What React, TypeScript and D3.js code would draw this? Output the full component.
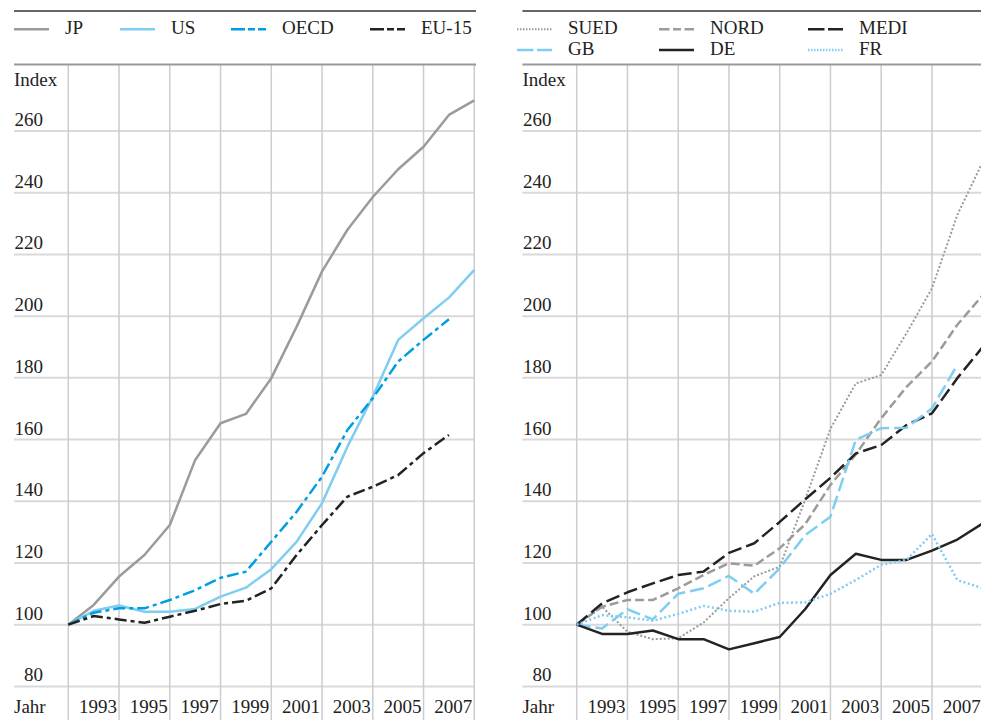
import React from "react";
import * as d3 from "d3";

const years = [1991, 1992, 1993, 1994, 1995, 1996, 1997, 1998, 1999, 2000, 2001, 2002, 2003, 2004, 2005, 2006, 2007];
const yearTicks = [1993, 1995, 1997, 1999, 2001, 2003, 2005, 2007];
const gridYears = [1991, 1993, 1995, 1997, 1999, 2001, 2003, 2005, 2007];
const yTicks = [80, 100, 120, 140, 160, 180, 200, 220, 240, 260];

// Left panel
const JP = [100, 106.4, 115.6, 122.6, 132.3, 153.4, 165.3, 168.3, 179.9, 196.6, 214.5, 228, 238.6, 247.6, 254.9, 265.2, 269.9];
const US = [100, 104.5, 106.2, 104.2, 104.2, 105.1, 109.1, 112, 118, 126.9, 139.4, 157.7, 173.9, 192.3, 199.3, 206, 215];
const OECD = [100, 103.9, 105.3, 105.3, 108, 111.2, 115.2, 117.2, 126.9, 136.6, 148, 163.1, 173.4, 185.3, 192.3, 199];
const EU15 = [100, 102.8, 101.7, 100.6, 102.6, 104.5, 106.7, 107.8, 111.8, 122.6, 132.3, 141.5, 144.7, 148.5, 155.6, 161.5];

// Right panel
const SUED = [100, 105.8, 97.7, 95.3, 95.6, 100.7, 108.6, 115.7, 118.8, 140.4, 163.5, 178.2, 180.9, 194.5, 209, 232.8, 250];
const NORD = [100, 105.8, 108, 108, 111.8, 116.1, 119.9, 119.1, 124.8, 132.5, 145.3, 155.2, 166.9, 177.1, 185.3, 197.2, 206.8];
const MEDI = [100, 106.9, 110.5, 113.4, 116.1, 117.2, 123.3, 126.4, 133.3, 140.6, 147.6, 155.5, 158.2, 164.7, 168.5, 179.9, 190];
const GB = [100, 98.8, 105, 101.7, 110, 111.8, 115.8, 110, 118.3, 129, 135, 159.9, 163.7, 163.8, 170.1, 184.2];
const DE = [100, 97, 97, 98.1, 95.3, 95.3, 92, 94, 96, 105, 116.1, 123, 121, 121, 124, 127.6, 132.8];
const FR = [100, 103.1, 102.4, 101.3, 103.5, 106.1, 104.5, 104.2, 107.1, 107.2, 110, 114.5, 119.4, 121, 129.4, 114.5, 111.8];

const GRAY = "#9b9b9b";
const LBLUE = "#80cdf2";
const BLUE = "#009ee0";
const DARK = "#232323";
const FONT = "'Liberation Serif', 'Times New Roman', serif";

type S = { name: string; data: number[]; color: string; dash?: string; legendDash?: string; width: number };

const leftSeries: S[] = [
  { name: "JP", data: JP, color: GRAY, width: 2.5 },
  { name: "US", data: US, color: LBLUE, width: 2.5 },
  { name: "OECD", data: OECD, color: BLUE, dash: "12,4,4,4", legendDash: "14,3,7,3", width: 2.5 },
  { name: "EU-15", data: EU15, color: DARK, dash: "12,4,4,4", legendDash: "14,3,7,3", width: 2.5 },
];
const rightSeries: S[] = [
  { name: "SUED", data: SUED, color: GRAY, dash: "2,2", legendDash: "1.5,1.5", width: 2 },
  { name: "NORD", data: NORD, color: GRAY, dash: "9,4", legendDash: "10.5,3.5,8,3.5", width: 2.5 },
  { name: "MEDI", data: MEDI, color: DARK, dash: "14,5", legendDash: "16.5,3.5", width: 2.5 },
  { name: "GB", data: GB, color: LBLUE, dash: "14,5", legendDash: "16.5,3.5", width: 2.5 },
  { name: "DE", data: DE, color: DARK, width: 2.5 },
  { name: "FR", data: FR, color: LBLUE, dash: "2,2.5", legendDash: "1.5,1.5", width: 2.5 },
];

const y = d3.scaleLinear().domain([80, 260]).range([686.4, 131]);

function Panel({ ox, series, legend }: { ox: number; series: S[]; legend: React.ReactNode }) {
  const x = d3.scaleLinear().domain([1991, 2007]).range([ox + 68.3, ox + 474.3]);
  const line = (data: number[]) =>
    d3.line<number>().x((_, i) => x(years[i])).y((v) => y(v))(data) || "";
  const left = ox + 14;
  const right = ox + 474;
  return (
    <g>
      <line x1={left} x2={ox + 476} y1={11} y2={11} stroke="#333" strokeWidth={1.5} />
      {legend}
      {yTicks.map((t) => (
        <line key={"h" + t} x1={left} x2={right} y1={y(t)} y2={y(t)} stroke="#d9d9d9" strokeWidth={2} />
      ))}
      {gridYears.map((g) => (
        <line key={"v" + g} x1={x(g)} x2={x(g)} y1={64} y2={720} stroke="#cccccc" strokeWidth={1.5} />
      ))}
      <line x1={left} x2={ox + 476} y1={64.5} y2={64.5} stroke="#999" strokeWidth={2.2} />
      <text x={left} y={86} fontSize={19} fill="#222">Index</text>
      {yTicks.map((t) => (
        <text key={"t" + t} x={ox + 43} y={y(t) - 5} fontSize={19} fill="#222" textAnchor="end">{t}</text>
      ))}
      <text x={left} y={713} fontSize={19} fill="#222">Jahr</text>
      {yearTicks.map((t) => (
        <text key={"y" + t} x={x(t) - 2} y={713} fontSize={19} fill="#222" textAnchor="end">{t}</text>
      ))}
      {series.map((s) => (
        <path key={s.name} d={line(s.data)} fill="none" stroke={s.color} strokeWidth={s.width}
          strokeDasharray={s.dash} strokeLinejoin="round" />
      ))}
    </g>
  );
}

function LegendItem({ s, x, yy }: { s: S; x: number; yy: number }) {
  return (
    <g>
      <line x1={x} x2={x + 35} y1={yy - 5} y2={yy - 5} stroke={s.color} strokeWidth={s.width}
        strokeDasharray={s.legendDash || s.dash} />
      <text x={x + 51} y={yy} fontSize={19} fill="#222">{s.name}</text>
    </g>
  );
}

export default function App() {
  const lx = [14, 120, 231, 370];
  const rx = [517, 659, 808];
  const leftLegend = (
    <g>
      {leftSeries.map((s, i) => (
        <LegendItem key={s.name} s={s} x={lx[i]} yy={34.3} />
      ))}
    </g>
  );
  const rightLegend = (
    <g>
      {rightSeries.map((s, i) => (
        <LegendItem key={s.name} s={s} x={rx[i % 3]} yy={i < 3 ? 34.3 : 55} />
      ))}
    </g>
  );
  return (
    <svg width={981} height={720} style={{ position: "absolute", left: 0, top: 0, fontFamily: FONT, background: "#fff" }}>
      <rect width={981} height={720} fill="#fff" />
      <Panel ox={0} series={leftSeries} legend={leftLegend} />
      <Panel ox={508.4} series={rightSeries} legend={rightLegend} />
    </svg>
  );
}
